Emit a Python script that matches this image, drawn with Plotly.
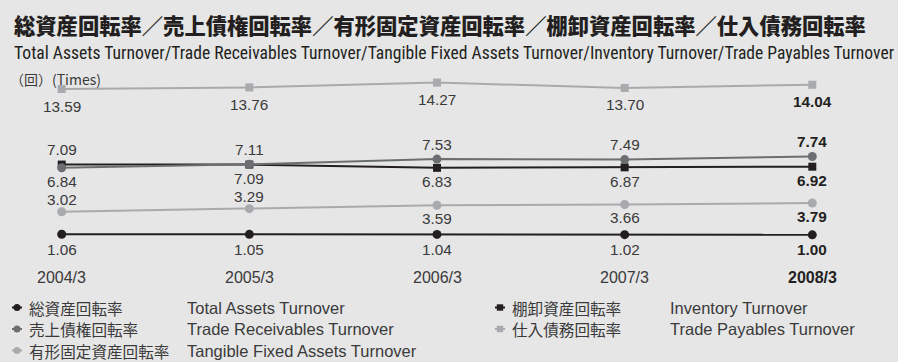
import plotly.graph_objects as go

# ---- data -------------------------------------------------------------
years = ["2004/3", "2005/3", "2006/3", "2007/3", "2008/3"]
total_assets = [1.06, 1.05, 1.04, 1.02, 1.00]
trade_receivables = [6.84, 7.11, 7.53, 7.49, 7.74]
tangible_fixed = [3.02, 3.29, 3.59, 3.66, 3.79]
inventory = [7.09, 7.09, 6.83, 6.87, 6.92]
trade_payables = [13.59, 13.76, 14.27, 13.70, 14.04]

series_jp = ["総資産回転率", "売上債権回転率", "有形固定資産回転率", "棚卸資産回転率", "仕入債務回転率"]
series_en = ["Total Assets Turnover", "Trade Receivables Turnover",
             "Tangible Fixed Assets Turnover", "Inventory Turnover", "Trade Payables Turnover"]

title_jp = "総資産回転率／売上債権回転率／有形固定資産回転率／棚卸資産回転率／仕入債務回転率"
title_en = ("Total Assets Turnover/Trade Receivables Turnover/Tangible Fixed Assets Turnover/"
            "Inventory Turnover/Trade Payables Turnover")
unit_label = "（回）(Times)"

# ---- styling ----------------------------------------------------------
W, H = 898, 362
BG = "#e6e6e7"
BLACK = "#231f20"
DARK = "#6d6e71"
LIGHT = "#a9aaad"
TXT = "#3a3a3a"
FONT = "Liberation Sans, Arial, sans-serif"
JP_FONT = "Noto Sans CJK JP, sans-serif"


def band_range(v_ref, y_px, px_per_unit):
    """Axis range (full plot height) placing v_ref at pixel row y_px."""
    return [v_ref - (H - y_px) / px_per_unit, v_ref + y_px / px_per_unit]


fig = go.Figure()

# each series family lives in its own horizontal band with its own y-axis
axes = {
    "y": band_range(1.06, 234.2, 11.0),    # total assets
    "y2": band_range(3.02, 211.7, 11.3),   # tangible fixed assets
    "y3": band_range(6.84, 167.7, 12.5),   # receivables & inventory
    "y4": band_range(13.59, 89.0, 9.5),    # trade payables
}

traces = [
    (trade_payables, "y4", LIGHT, "square", 8),
    (total_assets, "y", BLACK, "circle", 9),
    (tangible_fixed, "y2", LIGHT, "circle", 9),
    (inventory, "y3", BLACK, "square", 8),
    (trade_receivables, "y3", DARK, "circle", 9),
]
for vals, ax, col, sym, size in traces:
    fig.add_trace(go.Scatter(
        x=years, y=vals, yaxis=ax, mode="lines+markers",
        line=dict(color=col, width=2),
        marker=dict(color=col, symbol=sym, size=size, line=dict(width=0)),
        hoverinfo="skip", showlegend=False, cliponaxis=False))

annotations = []


def value_label(x, v, ax, shift, last):
    txt = f"{v:.2f}"
    annotations.append(dict(
        x=x, y=v, xref="x", yref=ax, text=f"<b>{txt}</b>" if last else txt,
        showarrow=False, yshift=shift, xanchor="center", yanchor="middle",
        font=dict(family=FONT, size=15.3, color=BLACK if last else TXT)))


n = len(years)
for i, x in enumerate(years):
    last = i == n - 1
    value_label(x, trade_payables[i], "y4", -17, last)
    value_label(x, total_assets[i], "y", -15, last)
    # tangible labels sit above for the first two years, below afterwards
    value_label(x, tangible_fixed[i], "y2", 12 if i < 2 else -13, last)
    # of the two overlapping series, the larger value is labelled above
    hi, lo = max(inventory[i], trade_receivables[i]), min(inventory[i], trade_receivables[i])
    value_label(x, hi, "y3", 15, last)
    value_label(x, lo, "y3", -14, last)
    annotations.append(dict(
        x=x, y=1 - 277 / H, xref="x", yref="paper",
        text=f"<b>{x}</b>" if last else x, showarrow=False,
        xanchor="center", yanchor="middle",
        font=dict(family=FONT, size=16, color=BLACK if last else TXT)))

# titles
annotations += [
    dict(x=12 / W, y=1 - 25 / H, xref="paper", yref="paper", text=title_jp,
         showarrow=False, xanchor="left", yanchor="middle",
         font=dict(family=JP_FONT, size=21.3, color=BLACK, weight=900)),
    dict(x=12 / W, y=1 - 53 / H, xref="paper", yref="paper", text=title_en,
         showarrow=False, xanchor="left", yanchor="middle",
         font=dict(family="Liberation Sans Narrow, Roboto Condensed, Liberation Sans, sans-serif",
                   size=17.6, color=BLACK)),
    dict(x=8 / W, y=1 - 79 / H, xref="paper", yref="paper", text=unit_label,
         showarrow=False, xanchor="left", yanchor="middle",
         font=dict(family=JP_FONT, size=14, color=TXT)),
]

# legend: icon, Japanese name, English name
shapes = []
legend_items = [
    (0, 307.5, 17, 27, 185, BLACK, "circle"),
    (1, 329, 17, 27, 185, DARK, "circle"),
    (2, 350.5, 17, 27, 185, LIGHT, "circle"),
    (3, 307.5, 500, 510, 668, BLACK, "square"),
    (4, 329, 500, 510, 668, LIGHT, "square"),
]
for idx, yp, cx, xjp, xen, col, sym in legend_items:
    shapes.append(dict(type="line", xref="paper", yref="paper",
                       x0=(cx - 5) / W, x1=(cx + 5) / W, y0=1 - yp / H, y1=1 - yp / H,
                       line=dict(color=col, width=2)))
    r = 3.5 if sym == "circle" else 3.2
    shapes.append(dict(type="circle" if sym == "circle" else "rect", xref="paper", yref="paper",
                       x0=(cx - r) / W, x1=(cx + r) / W,
                       y0=1 - (yp + r) / H, y1=1 - (yp - r) / H,
                       fillcolor=col, line=dict(width=0)))
    annotations.append(dict(x=xjp / W, y=1 - yp / H, xref="paper", yref="paper",
                            text=series_jp[idx], showarrow=False, xanchor="left", yanchor="middle",
                            font=dict(family=JP_FONT, size=15.6, color=TXT)))
    annotations.append(dict(x=xen / W, y=1 - yp / H, xref="paper", yref="paper",
                            text=series_en[idx], showarrow=False, xanchor="left", yanchor="middle",
                            font=dict(family=FONT, size=16.5, color=TXT)))

hidden = dict(visible=False, showgrid=False, zeroline=False, fixedrange=True)
layout = dict(
    width=W, height=H, margin=dict(l=0, r=0, t=0, b=0),
    paper_bgcolor=BG, plot_bgcolor=BG,
    xaxis=dict(type="category", categoryorder="array", categoryarray=years,
               range=[-61.7 / 187.65, (W - 61.7) / 187.65], **hidden),
    annotations=annotations, shapes=shapes,
)
for i, (ax, rng) in enumerate(axes.items()):
    key = "yaxis" if ax == "y" else "yaxis" + ax[1:]
    cfg = dict(range=rng, **hidden)
    if ax != "y":
        cfg.update(overlaying="y")
    layout[key] = cfg
fig.update_layout(**layout)

fig.write_html("out.html")
